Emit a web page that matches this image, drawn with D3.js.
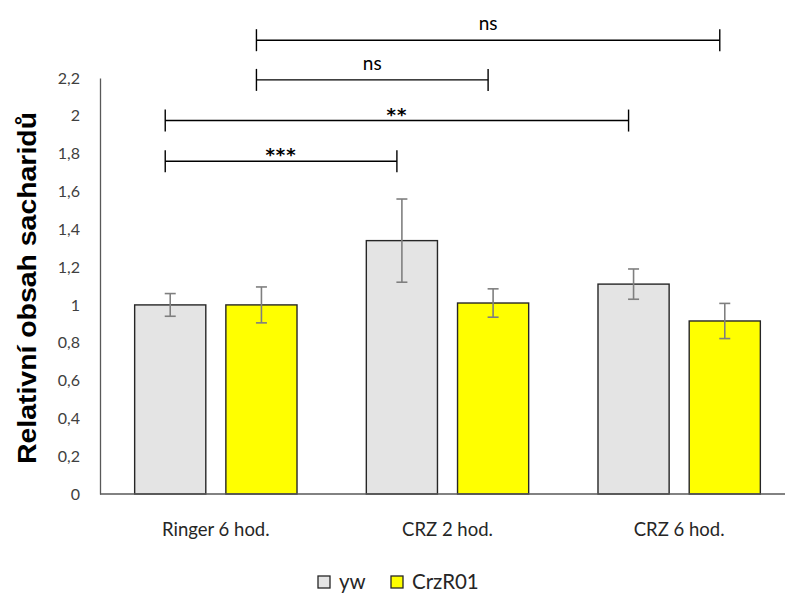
<!DOCTYPE html>
<html>
<head>
<meta charset="utf-8">
<script src="https://cdn.jsdelivr.net/npm/d3@7"></script>
<style>
  html, body { margin: 0; padding: 0; background: #fff; }
  svg { display: block; }
</style>
</head>
<body>
<svg id="chart" width="785" height="593"></svg>
<script>
// Groups along the x axis
const categories = ["Ringer 6 hod.", "CRZ 2 hod.", "CRZ 6 hod."];
// Genotypes (legend order)
const seriesNames = ["yw", "CrzR01"];
const seriesColors = ["#e4e4e4", "#ffff00"];
// Mean relative saccharide content per group
const ywValues = [1.00, 1.34, 1.11];
const crzValues = [1.00, 1.01, 0.915];
// Error (± half-length of each error bar)
const ywErrors = [0.06, 0.22, 0.08];
const crzErrors = [0.095, 0.075, 0.093];
// Y axis tick values
const yTicks = [0, 0.2, 0.4, 0.6, 0.8, 1, 1.2, 1.4, 1.6, 1.8, 2, 2.2];
// Significance comparisons: [group, series] to [group, series], bracket level, label
const comparisons = [
  { from: [0, 1], to: [2, 1], level: 2.40, label: "ns" },
  { from: [0, 1], to: [1, 1], level: 2.19, label: "ns" },
  { from: [0, 0], to: [2, 0], level: 1.975, label: "**" },
  { from: [0, 0], to: [1, 0], level: 1.76, label: "***" }
];

const svg = d3.select("#chart");
const margin = { left: 100, top: 78, bottom: 494 };
const sans = "Lato, 'Open Sans', sans-serif";

const x = d3.scaleBand().domain(categories).range([margin.left, 795]).padding(0);
const xs = d3.scaleBand().domain(seriesNames).range([0, x.bandwidth()])
  .paddingInner(0.22).paddingOuter(0.38);
const y = d3.scaleLinear().domain([0, 2.2]).range([margin.bottom, margin.top]);

const fmt = v => d3.format("~g")(v).replace(".", ",");

// Y axis (line + labels, no tick marks)
const yAxis = svg.append("g")
  .attr("transform", `translate(${margin.left},0)`)
  .call(d3.axisLeft(y).tickValues(yTicks).tickFormat(fmt).tickSize(0).tickPadding(20));
yAxis.select(".domain").attr("stroke", "#595959").attr("stroke-width", 1.3);
yAxis.selectAll("text")
  .attr("font-family", sans)
  .attr("font-size", 16).attr("fill", "#404040");

// Y axis title
svg.append("text")
  .attr("transform", `translate(36,${(margin.top + margin.bottom) / 2 + 2}) rotate(-90)`)
  .attr("text-anchor", "middle")
  .attr("font-family", "'Liberation Sans', Arial, sans-serif")
  .attr("font-weight", "bold")
  .attr("font-size", 26)
  .attr("textLength", 352)
  .attr("lengthAdjust", "spacingAndGlyphs")
  .attr("fill", "#000")
  .text("Relativní obsah sacharidů");

// Bars
const data = categories.map((c, i) => ({
  cat: c,
  values: [
    { s: seriesNames[0], v: ywValues[i], e: ywErrors[i], color: seriesColors[0] },
    { s: seriesNames[1], v: crzValues[i], e: crzErrors[i], color: seriesColors[1] }
  ]
}));

const groups = svg.append("g").selectAll("g").data(data).join("g")
  .attr("transform", d => `translate(${x(d.cat)},0)`);

groups.selectAll("rect").data(d => d.values).join("rect")
  .attr("x", d => xs(d.s))
  .attr("y", d => y(d.v))
  .attr("width", xs.bandwidth())
  .attr("height", d => y(0) - y(d.v))
  .attr("fill", d => d.color)
  .attr("stroke", "#262626")
  .attr("stroke-width", 1.4);

// Error bars
const eb = groups.selectAll("g.err").data(d => d.values).join("g").attr("class", "err")
  .attr("stroke", "#7f7f7f").attr("stroke-width", 1.6);
const cx = d => xs(d.s) + xs.bandwidth() / 2;
eb.append("line").attr("x1", cx).attr("x2", cx)
  .attr("y1", d => y(d.v + d.e)).attr("y2", d => y(d.v - d.e));
eb.append("line").attr("x1", d => cx(d) - 5.5).attr("x2", d => cx(d) + 5.5)
  .attr("y1", d => y(d.v + d.e)).attr("y2", d => y(d.v + d.e));
eb.append("line").attr("x1", d => cx(d) - 5.5).attr("x2", d => cx(d) + 5.5)
  .attr("y1", d => y(d.v - d.e)).attr("y2", d => y(d.v - d.e));

// X axis line
svg.append("line")
  .attr("x1", margin.left).attr("x2", 785)
  .attr("y1", y(0)).attr("y2", y(0))
  .attr("stroke", "#595959").attr("stroke-width", 1.3);

// Category labels
svg.append("g").selectAll("text").data(categories).join("text")
  .attr("x", d => x(d) + x.bandwidth() / 2)
  .attr("y", 536)
  .attr("text-anchor", "middle")
  .attr("font-family", sans)
  .attr("font-size", 18.5)
  .attr("fill", "#262626")
  .text(d => d);

// Significance brackets
const barCenter = ([g, s]) => x(categories[g]) + xs(seriesNames[s]) + xs.bandwidth() / 2 - 5;
const br = svg.append("g").selectAll("g").data(comparisons).join("g");
br.append("line")
  .attr("x1", d => barCenter(d.from)).attr("x2", d => barCenter(d.to))
  .attr("y1", d => y(d.level)).attr("y2", d => y(d.level))
  .attr("stroke", "#000").attr("stroke-width", 1.4);
br.append("line")
  .attr("x1", d => barCenter(d.from)).attr("x2", d => barCenter(d.from))
  .attr("y1", d => y(d.level) - 11).attr("y2", d => y(d.level) + 11)
  .attr("stroke", "#000").attr("stroke-width", 1.4);
br.append("line")
  .attr("x1", d => barCenter(d.to)).attr("x2", d => barCenter(d.to))
  .attr("y1", d => y(d.level) - 11).attr("y2", d => y(d.level) + 11)
  .attr("stroke", "#000").attr("stroke-width", 1.4);
br.append("text")
  .attr("x", d => (barCenter(d.from) + barCenter(d.to)) / 2)
  .attr("y", d => y(d.level) - (d.label === "ns" ? 10 : 0))
  .attr("text-anchor", "middle")
  .attr("font-family", d => d.label === "ns" ? sans : "'DejaVu Sans', sans-serif")
  .attr("font-size", d => d.label === "ns" ? 19 : 18)
  .attr("font-weight", d => d.label === "ns" ? "normal" : "bold")
  .attr("letter-spacing", d => d.label === "ns" ? 0 : 1)
  .attr("fill", "#000")
  .text(d => d.label);

// Legend
const legend = svg.append("g").attr("transform", "translate(318,576)");
const legendX = [0, 73];
const li = legend.selectAll("g").data(seriesNames).join("g")
  .attr("transform", (d, i) => `translate(${legendX[i]},0)`);
li.append("rect").attr("width", 12).attr("height", 12)
  .attr("fill", (d, i) => seriesColors[i]).attr("stroke", "#262626").attr("stroke-width", 1.3);
li.append("text").attr("x", 21).attr("y", 13)
  .attr("font-family", sans)
  .attr("font-size", 20.5).attr("fill", "#262626")
  .text(d => d);
</script>
</body>
</html>
